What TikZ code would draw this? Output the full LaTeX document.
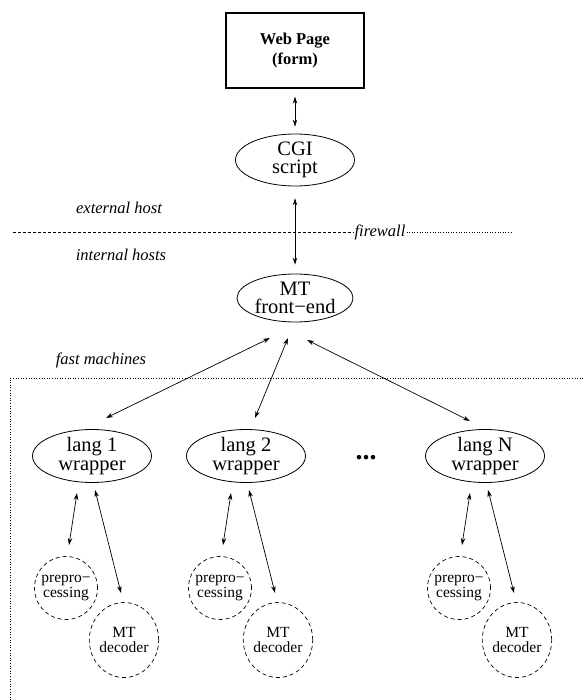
\documentclass[tikz,border=0pt]{standalone}
\usepackage{fontspec}
\setmainfont{Liberation Serif}
\usetikzlibrary{arrows.meta,shapes.geometric}
\begin{document}
\begin{tikzpicture}[x=1pt,y=-1pt,
  >={Stealth[length=7pt,width=4.5pt]},
  arr/.style={<->,line width=0.7pt},
  big/.style={ellipse,draw,line width=0.8pt,inner sep=0pt,align=center,font=\fontsize{20.5}{18.5}\selectfont},
  small/.style={draw,dashed,dash pattern=on 4pt off 3pt,line width=0.7pt,inner sep=0pt,align=center,font=\fontsize{15.5}{15}\selectfont},
  lbl/.style={font=\fontsize{16.5}{18}\selectfont\itshape,inner sep=1pt}]
\useasboundingbox (0,0) rectangle (585,700);
% top box
\node[draw,line width=1.3pt,minimum width=138pt,minimum height=75pt,align=center,font=\fontsize{16.5}{20}\selectfont\bfseries] (web) at (295,50.5) {Web Page\\(form)};
\node[big,minimum width=119pt,minimum height=52pt] (cgi) at (295,160) {CGI\\script};
\node[big,minimum width=116pt,minimum height=48pt] (mt) at (295,298) {MT\\front−end};
% labels
\node[lbl] (ext) at (119,208) {external host};
\node[lbl] (int) at (121,255) {internal hosts};
\node[lbl] (fw) at (380,232) {firewall};
\node[lbl] (fast) at (101,360) {fast machines};
\coordinate (fwl) at (13,232);
\coordinate (fwr) at (512,232);
\draw[dash pattern=on 3pt off 2pt,line width=0.6pt] (fwl) -- (fw.west);
\draw[dotted,line width=0.6pt] (fw.east) -- (fwr);
% dotted frame
\draw[dotted,line width=0.6pt] (10,700) -- (10,378) -- (585,378);
% wrappers
\node[big,minimum width=119pt,minimum height=53pt] (l1) at (92,456) {lang 1\\wrapper};
\node[big,minimum width=119pt,minimum height=53pt] (l2) at (246,456) {lang 2\\wrapper};
\node[big,minimum width=119pt,minimum height=53pt] (lN) at (485,456) {lang N\\wrapper};
\node[font=\fontsize{28}{28}\selectfont\bfseries,inner sep=0pt] (dots) at (366,458) {...};
% sub nodes
\foreach \n/\x in {1/0,2/154,N/393}{
  \node[small,circle,minimum size=63pt] (p\n) at (66+\x,588) {prepro−\\cessing};
  \node[small,ellipse,minimum width=66pt,minimum height=75pt] (d\n) at (124+\x,640) {MT\\decoder};
  \draw[arr] ([shift={(-15,37)}]l\n.center) -- ([shift={(3,-43)}]p\n.center);
  \draw[arr] ([shift={(3,34)}]l\n.center) -- ([shift={(-3,-47)}]d\n.center);
}
% arrows
\draw[arr,shorten <=8pt,shorten >=7pt] (web.south) -- (cgi.north);
\draw[arr,shorten <=12pt,shorten >=9pt] (cgi.south) -- (mt.north);
\draw[arr] ([shift={(-25,40)}]mt.center) -- ([shift={(14,-38)}]l1.center);
\draw[arr] ([shift={(-7,40)}]mt.center) -- ([shift={(9,-38)}]l2.center);
\draw[arr] ([shift={(12,42)}]mt.center) -- ([shift={(-15,-35)}]lN.center);
\end{tikzpicture}
\end{document}
